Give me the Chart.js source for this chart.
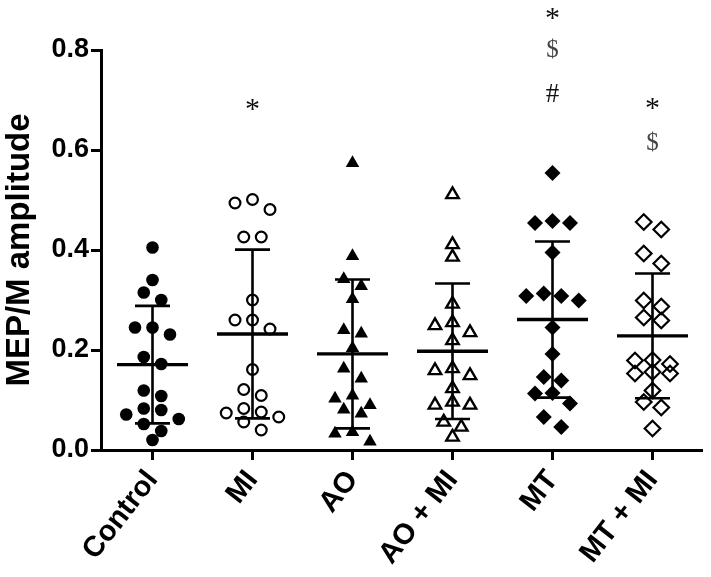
<!DOCTYPE html>
<html>
<head>
<meta charset="utf-8">
<script src="https://cdn.jsdelivr.net/npm/chart.js@4.4.0/dist/chart.umd.min.js"></script>
<style>
  html, body { margin: 0; padding: 0; background: #fff; }
  #wrap { width: 711px; height: 577px; }
</style>
</head>
<body>
<div id="wrap"><canvas id="myChart" width="711" height="577"></canvas></div>
<script>
// groups along the x axis
const categories = ['Control', 'MI', 'AO', 'AO + MI', 'MT', 'MT + MI'];

// MEP/M amplitude per subject
const controlValues = [0.405, 0.340, 0.315, 0.300, 0.245, 0.245, 0.231, 0.186, 0.172, 0.119, 0.108, 0.083, 0.080, 0.071, 0.062, 0.052, 0.038, 0.020];
const miValues = [0.501, 0.494, 0.481, 0.426, 0.426, 0.300, 0.260, 0.260, 0.242, 0.161, 0.121, 0.109, 0.083, 0.076, 0.074, 0.066, 0.056, 0.040];
const aoValues = [0.574, 0.388, 0.342, 0.328, 0.302, 0.240, 0.233, 0.204, 0.163, 0.143, 0.109, 0.103, 0.090, 0.081, 0.073, 0.036, 0.033, 0.017];
const aoMiValues = [0.511, 0.411, 0.386, 0.292, 0.255, 0.249, 0.235, 0.219, 0.163, 0.159, 0.149, 0.123, 0.096, 0.090, 0.090, 0.056, 0.046, 0.026];
const mtValues = [0.554, 0.458, 0.454, 0.454, 0.395, 0.313, 0.308, 0.308, 0.299, 0.245, 0.192, 0.146, 0.139, 0.114, 0.113, 0.093, 0.066, 0.046];
const mtMiValues = [0.456, 0.441, 0.393, 0.373, 0.299, 0.287, 0.265, 0.259, 0.180, 0.179, 0.172, 0.156, 0.153, 0.153, 0.119, 0.096, 0.085, 0.043];

const yTicks = [0, 0.2, 0.4, 0.6, 0.8];

// significance marks above the groups
const markGroup = [1, 4, 4, 4, 5, 5];
const markValue = [0.680, 0.862, 0.800, 0.710, 0.682, 0.614];
const markText = ['*', '*', '$', '#', '*', '$'];

const groups = [controlValues, miValues, aoValues, aoMiValues, mtValues, mtMiValues];

// marker look for each group
const looks = [
  { style: 'circle', radius: 6.3, filled: true, border: 0 },
  { style: 'circle', radius: 5.4, filled: false, border: 2.2 },
  { style: 'triangle', radius: 7.8, filled: true, border: 0 },
  { style: 'triangle', radius: 7.2, filled: false, border: 2.4 },
  { style: 'rectRot', radius: 8, filled: true, border: 0 },
  { style: 'rectRot', radius: 7.8, filled: false, border: 2.2 }
];

function mean(a) {
  return a.reduce((s, v) => s + v, 0) / a.length;
}

function sd(a) {
  const m = mean(a);
  return Math.sqrt(a.reduce((s, v) => s + (v - m) * (v - m), 0) / (a.length - 1));
}

// prism-like column scatter: close values share a row, rows are centred
function swarm(values, rowStep, slotWidth) {
  const sorted = values.slice().sort((a, b) => b - a);
  const rows = [];
  let row = [];
  sorted.forEach(v => {
    if (row.length && row[0] - v > rowStep) {
      rows.push(row);
      row = [];
    }
    row.push(v);
  });
  if (row.length) rows.push(row);

  const out = [];
  rows.forEach(r => {
    const slots = [];
    for (let k = 0; k < r.length; k++) slots.push(k - (r.length - 1) / 2);
    slots.sort((a, b) => Math.abs(a) - Math.abs(b) || a - b);
    r.forEach((v, k) => out.push({ dx: slots[k] * slotWidth, y: v }));
  });
  return out;
}

const datasets = [];

// mean and SD bars, drawn on top of the markers
const meanLine = [];
const sdLine = [];
groups.forEach((g, i) => {
  const m = mean(g);
  const s = sd(g);
  meanLine.push({ x: i - 0.355, y: m }, { x: i + 0.355, y: m }, { x: i, y: null });
  sdLine.push(
    { x: i, y: m - s }, { x: i, y: m + s }, { x: i, y: null },
    { x: i - 0.175, y: m + s }, { x: i + 0.175, y: m + s }, { x: i, y: null },
    { x: i - 0.175, y: m - s }, { x: i + 0.175, y: m - s }, { x: i, y: null }
  );
});

datasets.push({
  data: meanLine, showLine: true, spanGaps: false, pointRadius: 0,
  borderColor: '#000', borderWidth: 3.4, borderCapStyle: 'butt', order: 0, clip: false
});
datasets.push({
  data: sdLine, showLine: true, spanGaps: false, pointRadius: 0,
  borderColor: '#000', borderWidth: 2.6, borderCapStyle: 'butt', order: 0, clip: false
});

groups.forEach((g, i) => {
  const lk = looks[i];
  datasets.push({
    data: swarm(g, 0.022, 0.175).map(p => ({ x: i + p.dx, y: p.y })),
    pointStyle: lk.style,
    pointRadius: lk.radius,
    pointBackgroundColor: lk.filled ? '#000' : 'rgba(0,0,0,0)',
    pointBorderColor: '#000',
    pointBorderWidth: lk.border,
    showLine: false,
    order: 1,
    clip: false
  });
});

const markSize = { '*': 30, '$': 25, '#': 27 };

const marksPlugin = {
  id: 'marks',
  afterDatasetsDraw(chart) {
    const ctx = chart.ctx;
    const xs = chart.scales.x;
    const ys = chart.scales.y;
    ctx.save();
    ctx.textAlign = 'center';
    ctx.textBaseline = 'middle';
    markText.forEach((t, k) => {
      ctx.font = markSize[t] + 'px "Liberation Serif", "Times New Roman", serif';
      ctx.fillStyle = t === '$' ? '#444' : '#111';
      ctx.fillText(t, xs.getPixelForValue(markGroup[k]), ys.getPixelForValue(markValue[k]));
    });
    ctx.restore();
  }
};

Chart.defaults.font.family = '"Liberation Sans", Arial, sans-serif';
Chart.defaults.color = '#000';

const ctx = document.getElementById('myChart').getContext('2d');
const chart = new Chart(ctx, {
  type: 'scatter',
  data: { datasets: datasets },
  options: {
    responsive: false,
    animation: false,
    layout: { padding: { top: 50, right: 4, left: 0, bottom: 0 } },
    scales: {
      x: {
        type: 'linear',
        min: -0.515,
        max: 5.485,
        afterBuildTicks: (scale) => {
          scale.ticks = categories.map((c, i) => ({ value: i }));
        },
        afterFit: (scale) => { scale.height = 127; },
        border: { display: true, color: '#000', width: 3 },
        grid: { drawOnChartArea: false, drawTicks: true, tickLength: 10, lineWidth: 3, color: '#000' },
        ticks: {
          autoSkip: false,
          minRotation: 52,
          maxRotation: 52,
          padding: 4,
          font: { size: 29, weight: 'bold' },
          callback: (v) => categories[Math.round(v)]
        }
      },
      y: {
        min: 0,
        max: 0.8,
        afterBuildTicks: (scale) => {
          scale.ticks = yTicks.map(v => ({ value: v }));
        },
        afterFit: (scale) => { scale.width = 101; },
        border: { display: true, color: '#000', width: 3 },
        grid: { drawOnChartArea: false, drawTicks: true, tickLength: 10, lineWidth: 3, color: '#000' },
        ticks: {
          padding: 2,
          font: { size: 27, weight: 'bold' },
          callback: (v) => v.toFixed(1)
        },
        title: {
          display: true,
          text: 'MEP/M amplitude',
          font: { size: 33, weight: 'bold' },
          padding: { top: 0, bottom: 0 }
        }
      }
    },
    plugins: {
      legend: { display: false },
      tooltip: { enabled: false }
    }
  },
  plugins: [marksPlugin]
});
</script>
</body>
</html>
